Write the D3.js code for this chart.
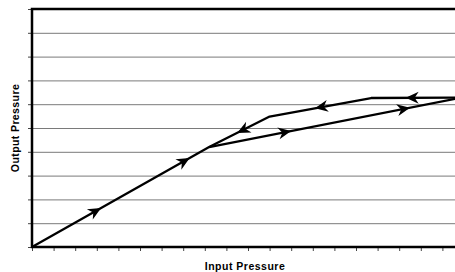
<!DOCTYPE html>
<html>
<head>
<meta charset="utf-8">
<script src="https://cdn.jsdelivr.net/npm/d3@7/dist/d3.min.js"></script>
<style>
  body { margin: 0; background: #fff; }
  svg { display: block; font-family: "Liberation Sans", Arial, sans-serif; }
</style>
</head>
<body>
<svg id="chart" width="455" height="272"></svg>
<script>
// values (x: input, y: output)
var loading = [[0, 0], [8.2, 4.2], [20, 6.3]];
var unloading = [[20, 6.28], [15.7, 6.26], [11.0, 5.48], [8.2, 4.2]];
var loadingArrows = [3.2, 7.3, 12.0, 17.5];
var unloadingArrows = [17.3, 13.1, 9.5];
var xTicks = d3.range(0, 21, 1);
var yTicks = d3.range(0, 11, 1);

var svg = d3.select('#chart'),
    plotLeft = 32, plotRight = 464, plotTop = 9, plotBottom = 247;

var x = d3.scaleLinear().domain([0, 20]).range([plotLeft, plotRight]),
    y = d3.scaleLinear().domain([0, 10]).range([plotBottom, plotTop]);

// gridlines
svg.append('g')
    .attr('transform', 'translate(' + plotLeft + ',0)')
    .call(d3.axisLeft(y).tickValues(yTicks).tickSize(-(plotRight - plotLeft)).tickFormat(''))
    .call(function(g) {
      g.select('.domain').remove();
      g.selectAll('line').attr('stroke', '#7a7a7a').attr('stroke-width', 1);
    });

// little ticks outside the left axis
svg.append('g')
    .attr('transform', 'translate(' + plotLeft + ',0)')
    .call(d3.axisLeft(y).tickValues(yTicks).tickSize(4).tickSizeOuter(0).tickFormat(''))
    .call(function(g) {
      g.select('.domain').remove();
      g.selectAll('line').attr('stroke', '#444');
    });

svg.append('g')
    .attr('transform', 'translate(0,' + plotBottom + ')')
    .call(d3.axisBottom(x).tickValues(xTicks).tickSize(4).tickSizeOuter(0).tickFormat(''))
    .call(function(g) {
      g.select('.domain').remove();
      g.selectAll('line').attr('stroke', '#444');
    });

// frame: top, left, bottom
svg.append('path')
    .attr('d', 'M' + plotRight + ',' + plotTop + 'H' + plotLeft + 'V' + plotBottom + 'H' + plotRight)
    .attr('fill', 'none')
    .attr('stroke', '#000')
    .attr('stroke-width', 2.5);

var line = d3.line()
    .x(function(d) { return x(d[0]); })
    .y(function(d) { return y(d[1]); });

function draw(data) {
  svg.append('path')
      .datum(data)
      .attr('d', line)
      .attr('fill', 'none')
      .attr('stroke', '#000')
      .attr('stroke-width', 2.3)
      .attr('stroke-linejoin', 'round');
}

// find the segment holding xv and place a barbed head pointing along it
function arrows(data, xs) {
  xs.forEach(function(xv) {
    for (var i = 0; i < data.length - 1; i++) {
      var a = data[i], b = data[i + 1],
          lo = Math.min(a[0], b[0]), hi = Math.max(a[0], b[0]);
      if (xv < lo || xv > hi) continue;
      var t = (xv - a[0]) / (b[0] - a[0]),
          yv = a[1] + t * (b[1] - a[1]),
          px = x(xv), py = y(yv),
          ang = Math.atan2(y(b[1]) - y(a[1]), x(b[0]) - x(a[0])) * 180 / Math.PI;
      svg.append('path')
          .attr('d', 'M0,0L-13,-6L-9,0L-13,6Z')
          .attr('transform', 'translate(' + px + ',' + py + ') rotate(' + ang + ')')
          .attr('fill', '#000');
      break;
    }
  });
}

draw(loading);
draw(unloading);
arrows(loading, loadingArrows);
arrows(unloading, unloadingArrows);

svg.append('text')
    .attr('x', 245)
    .attr('y', 270)
    .attr('text-anchor', 'middle')
    .attr('font-size', 10.5)
    .attr('letter-spacing', 0.5)
    .attr('font-weight', 'bold')
    .text('Input Pressure');

svg.append('text')
    .attr('transform', 'translate(19,128) rotate(-90)')
    .attr('text-anchor', 'middle')
    .attr('font-size', 10.5)
    .attr('letter-spacing', 0.4)
    .attr('font-weight', 'bold')
    .text('Output Pressure');
</script>
</body>
</html>
